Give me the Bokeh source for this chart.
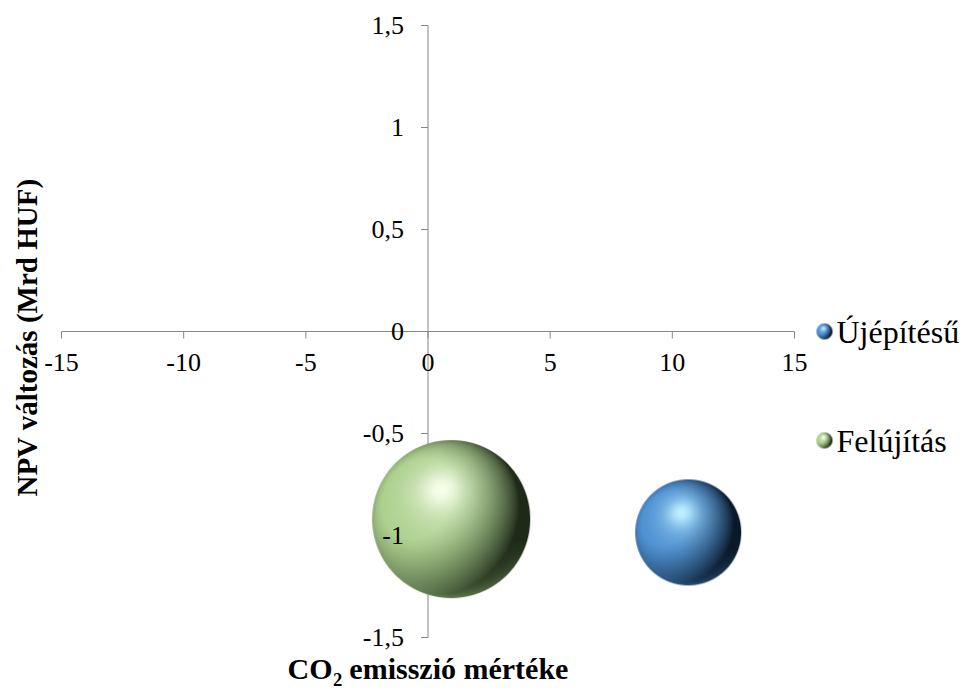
import numpy as np
from bokeh.plotting import figure
from bokeh.models import Range1d
from bokeh.core.properties import value
from bokeh.embed import file_html
from bokeh.resources import INLINE

# ---------------- data ----------------
series = ["Újépítésű", "Felújítás"]
co2_change = [10.65, 0.95]          # CO2 emisszió mértéke
npv_change = [-0.985, -0.92]        # NPV változás (Mrd HUF)
bubble_size = [1.0, 2.22]           # relative bubble size (area)
x_ticks = [-15, -10, -5, 0, 5, 10, 15]
x_tick_labels = ["-15", "-10", "-5", "0", "5", "10", "15"]
y_ticks = [-1.5, -1.0, -0.5, 0.0, 0.5, 1.0, 1.5]
y_tick_labels = ["-1,5", "-1", "-0,5", "0", "0,5", "1", "1,5"]
x_title_parts = ["CO", "2", "emisszió mértéke"]   # "CO₂ emisszió mértéke"
y_title = "NPV változás (Mrd HUF)"

# ---------------- layout / style ----------------
W, H = 979, 691
FX0, FX1 = 61, 794      # pixel columns of first/last x tick
FY0, FY1 = 25, 637      # pixel rows of top/bottom y tick
sx = (FX1 - FX0) / (x_ticks[-1] - x_ticks[0])
sy = (FY1 - FY0) / (y_ticks[-1] - y_ticks[0])
x_start = x_ticks[0] - FX0 / sx
x_end = x_ticks[-1] + (W - FX1) / sx
y_end = y_ticks[-1] + FY0 / sy
y_start = y_ticks[0] - (H - FY1) / sy


def px_to_data(px, py):
    return x_start + px / sx, y_end - py / sy


FONT = value("Liberation Serif")
AXIS_COL = "#868686"
TICK_LEN = 7
D_MAX = 158  # diameter in px of the largest bubble
TICK_FS = 26
TITLE_FS = 30
LEGEND_FS = 32

styles = {
    "Újépítésű": dict(base=(78, 144, 210), light=(190, 240, 255), dark=(10, 24, 40)),
    "Felújítás": dict(base=(172, 208, 142), light=(248, 255, 236), dark=(30, 42, 24)),
}


def sphere_image(d, base, light, dark):
    n = max(int(round(d)), 2)
    c = (np.arange(n) + 0.5) / n * 2 - 1
    u, v = np.meshgrid(c, c)  # row 0 = bottom
    r = np.sqrt(u * u + v * v)
    z = np.sqrt(np.clip(1 - r * r, 0, 1))
    L = np.array([-0.5, 0.3, 0.81]); L /= np.linalg.norm(L)
    diff = np.clip(u * L[0] + v * L[1] + z * L[2], 0, 1)
    Hh = np.array([-0.13, 0.37, 0.92]); Hh /= np.linalg.norm(Hh)
    nh = np.clip(u * Hh[0] + v * Hh[1] + z * Hh[2], 0, 1)
    base = np.array(base, float) / 255
    light = np.array(light, float) / 255
    dark = np.array(dark, float) / 255
    shade = np.clip(diff / 0.85, 0, 1) ** 0.9
    col = dark + (base - dark) * shade[..., None]
    glow = nh ** 6 * 0.45 + nh ** 30 * 0.55
    col = col + (light - col) * np.clip(glow, 0, 1)[..., None]
    rim = np.clip(-(v * 0.9 + u * 0.25), 0, 1) * (1 - z) ** 1.2
    refl = np.clip(base * 1.05, 0, 1)
    col = col + (refl - col) * (rim * 0.6)[..., None]
    alpha = np.clip((1 - r) * n / 2 + 0.5, 0, 1)
    rgba = np.dstack([np.clip(col, 0, 1) * 255, alpha * 255]).astype(np.uint8)
    rgba = np.ascontiguousarray(rgba)
    return rgba.view(np.uint32).reshape(n, n)


p = figure(width=W, height=H,
           x_range=Range1d(x_start, x_end), y_range=Range1d(y_start, y_end),
           x_axis_type=None, y_axis_type=None,
           output_backend="svg", toolbar_location=None,
           min_border=0, outline_line_color=None,
           background_fill_color="white", border_fill_color="white")

# axes lines (crossing at 0)
p.segment(x0=[x_ticks[0]], y0=[0], x1=[x_ticks[-1]], y1=[0], line_color=AXIS_COL, line_width=1)
p.segment(x0=[0], y0=[y_ticks[0]], x1=[0], y1=[y_ticks[-1]], line_color=AXIS_COL, line_width=1)
# tick marks (outside)
p.segment(x0=x_ticks, y0=[0] * len(x_ticks), x1=x_ticks, y1=[-TICK_LEN / sy] * len(x_ticks),
          line_color=AXIS_COL, line_width=1)
p.segment(x0=[0] * len(y_ticks), y0=y_ticks, x1=[-TICK_LEN / sx] * len(y_ticks), y1=y_ticks,
          line_color=AXIS_COL, line_width=1)

# bubbles
smax = max(bubble_size)
for name, cx, cy, s in zip(series, co2_change, npv_change, bubble_size):
    d = D_MAX * np.sqrt(s / smax)
    img = sphere_image(d, **styles[name])
    p.image_rgba(image=[img], x=[cx], y=[cy], dw=[img.shape[1]], dh=[img.shape[0]],
                 dw_units="screen", dh_units="screen", anchor="center")
    p.scatter(x=[cx], y=[cy], size=d, fill_alpha=0, line_alpha=0)

# tick labels
p.text(x=x_ticks, y=[0] * len(x_ticks), text=x_tick_labels, text_font=FONT,
       text_font_size=f"{TICK_FS}px", text_color="black", text_align="center",
       text_baseline="middle", y_offset=31)
p.text(x=[0] * len(y_ticks), y=y_ticks, text=y_tick_labels, text_font=FONT,
       text_font_size=f"{TICK_FS}px", text_color="black", text_align="right",
       text_baseline="middle", x_offset=-24)

# x axis title with subscript (Times-compatible bold advance widths, per 1000 em)
BOLD_W = {"C": 722, "O": 778, "2": 500, " ": 250, "e": 444, "m": 833, "i": 278, "s": 389,
          "z": 444, "ó": 500, "r": 444, "t": 333, "é": 444, "k": 556}
SUB_SCALE = 0.62


def bold_width(s, fs):
    return sum(BOLD_W.get(ch, 500) for ch in s) / 1000 * fs


w_main = bold_width(x_title_parts[0], TITLE_FS)
w_sub = bold_width(x_title_parts[1], TITLE_FS * SUB_SCALE)
w_space = bold_width(" ", TITLE_FS)
w_rest = bold_width(x_title_parts[2], TITLE_FS)
total = w_main + w_sub + w_space + w_rest
tx, ty = px_to_data((FX0 + FX1) / 2, 668)
start = -total / 2
p.text(x=[tx], y=[ty], text=[x_title_parts[0]], text_font=FONT, text_font_size=f"{TITLE_FS}px",
       text_font_style="bold", text_color="black", text_align="left", text_baseline="middle",
       x_offset=start)
p.text(x=[tx], y=[ty], text=[x_title_parts[1]], text_font=FONT,
       text_font_size=f"{TITLE_FS * SUB_SCALE:.1f}px",
       text_font_style="bold", text_color="black", text_align="left", text_baseline="middle",
       x_offset=start + w_main + 0.5, y_offset=TITLE_FS * 0.36)
p.text(x=[tx], y=[ty], text=[x_title_parts[2]], text_font=FONT, text_font_size=f"{TITLE_FS}px",
       text_font_style="bold", text_color="black", text_align="left", text_baseline="middle",
       x_offset=start + w_main + w_sub + w_space)

tx, ty = px_to_data(26, (FY0 + FY1) / 2 + 6)
p.text(x=[tx], y=[ty], text=[y_title], text_font=FONT, text_font_size=f"{TITLE_FS - 1}px",
       text_font_style="bold", text_color="black", text_align="center", text_baseline="middle",
       angle=np.pi / 2)

# legend
legend_rows = [331, 440]
for name, row in zip(series, legend_rows):
    mx, my = px_to_data(824, row)
    img = sphere_image(16, **styles[name])
    p.image_rgba(image=[img], x=[mx], y=[my], dw=[img.shape[1]], dh=[img.shape[0]],
                 dw_units="screen", dh_units="screen", anchor="center")
    lx, ly = px_to_data(836, row)
    p.text(x=[lx], y=[ly], text=[name], text_font=FONT, text_font_size=f"{LEGEND_FS}px",
           text_color="black", text_align="left", text_baseline="middle")

open("out.html", "w").write(file_html(p, INLINE))
